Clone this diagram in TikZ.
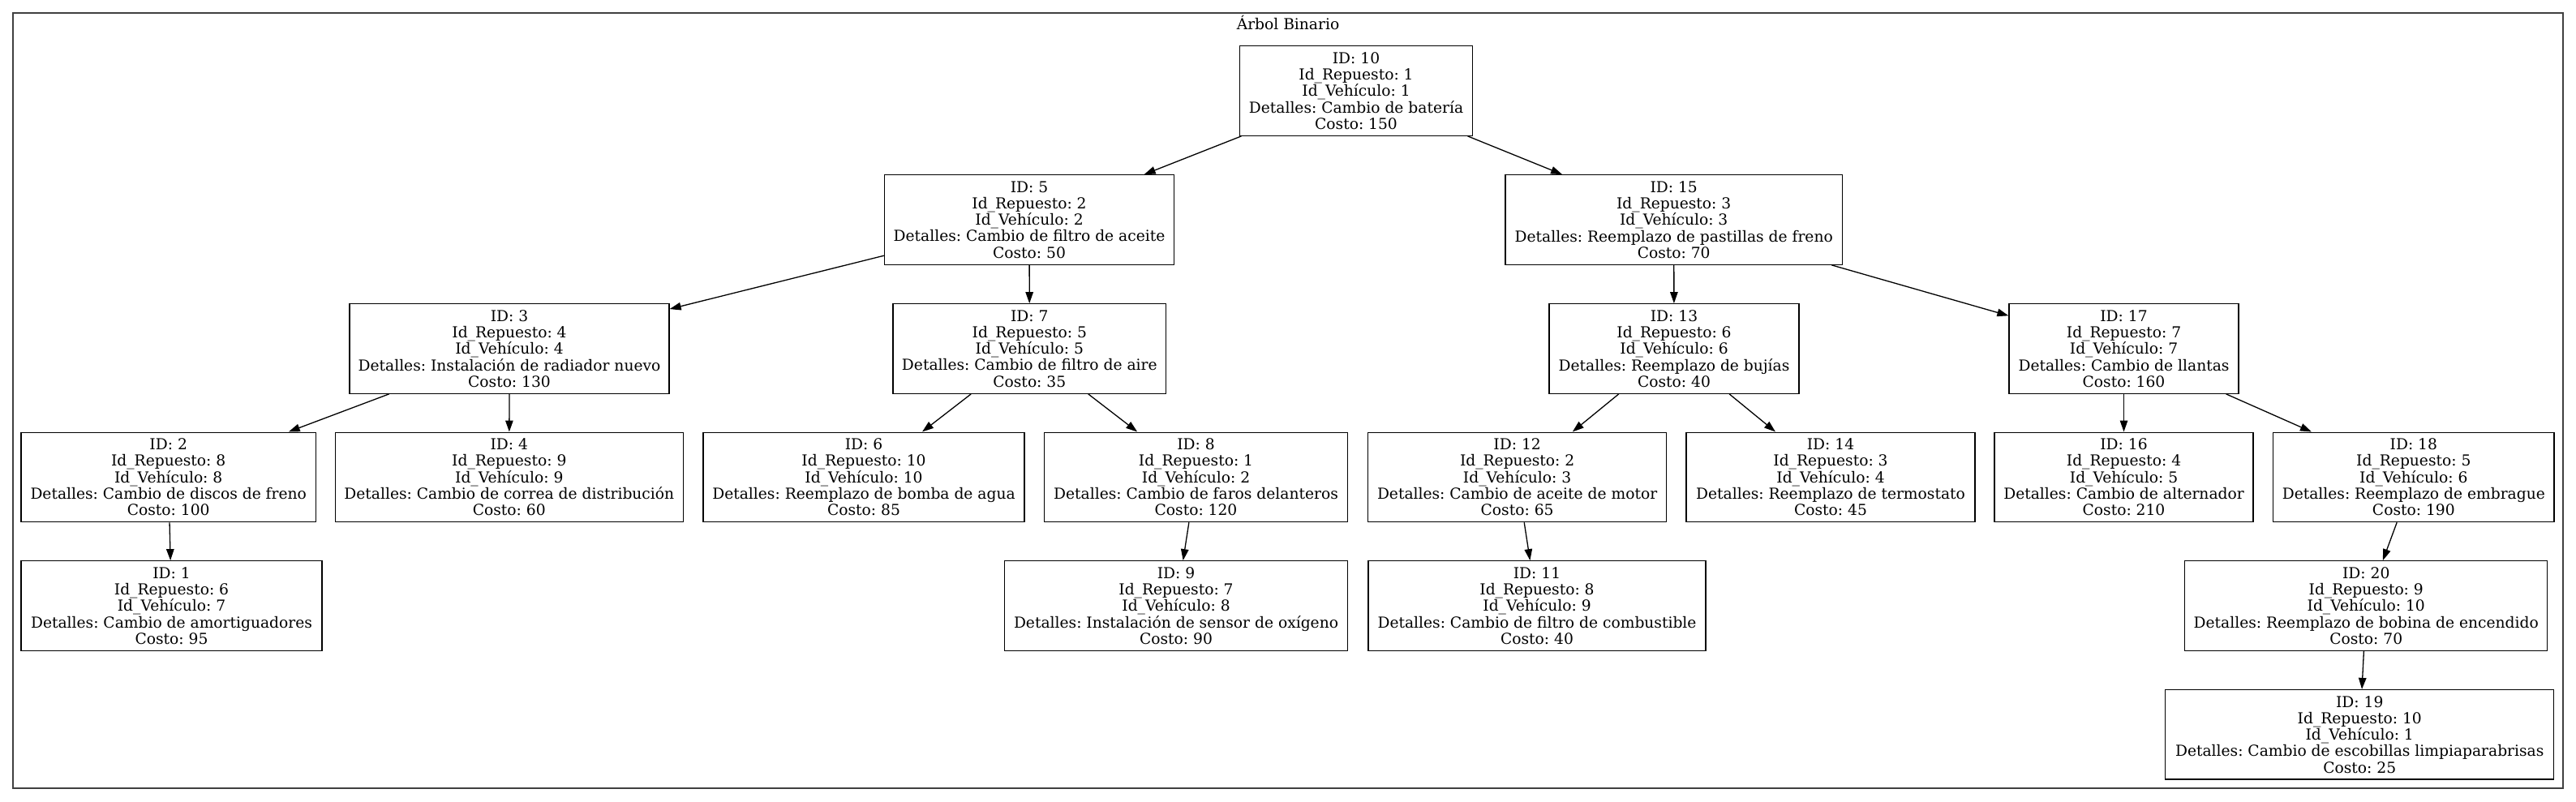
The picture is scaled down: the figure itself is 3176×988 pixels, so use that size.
\documentclass[tikz,border=0pt]{standalone}
\usepackage{fontspec}
\setmainfont{DejaVu Serif}
\usepackage{tikz}
\usetikzlibrary{arrows.meta}
\frenchspacing
\tikzset{nodo/.style={draw, line width=1.3pt, inner sep=0pt, align=center,
    minimum width=#1, minimum height=110.5pt,
    font=\fontsize{18.67}{20.25}\selectfont}
}
\tikzset{arista/.style={-{Triangle[length=14pt,width=9.5pt]}, line width=1.3pt}
}

\begin{document}
\begin{tikzpicture}[x=1pt,y=-1pt]
                \useasboundingbox (0,0) rectangle (3176,988);
                \draw[line width=2pt,black!75] (15.5,16) rectangle (3159.5,971.5);
                \node[anchor=base,font=\fontsize{18.67}{20.25}\selectfont] (titulo) at (1588,36) {Árbol Binario};

                % Nivel 0
                \node[nodo=287pt] (n10) at (1672,112) {ID: 10\\Id\_Repuesto: 1\\Id\_Vehículo: 1\\Detalles: Cambio de batería\\Costo: 150};

                % Nivel 1
                \node[nodo=357pt] (n5) at (1269,271) {ID: 5\\Id\_Repuesto: 2\\Id\_Vehículo: 2\\Detalles: Cambio de filtro de aceite\\Costo: 50};
                \node[nodo=415.5pt] (n15) at (2063.7,271) {ID: 15\\Id\_Repuesto: 3\\Id\_Vehículo: 3\\Detalles: Reemplazo de pastillas de freno\\Costo: 70};

                % Nivel 2
                \node[nodo=394pt] (n3) at (628,430) {ID: 3\\Id\_Repuesto: 4\\Id\_Vehículo: 4\\Detalles: Instalación de radiador nuevo\\Costo: 130};
                \node[nodo=336.7pt] (n7) at (1269.3,430) {ID: 7\\Id\_Repuesto: 5\\Id\_Vehículo: 5\\Detalles: Cambio de filtro de aire\\Costo: 35};
                \node[nodo=308pt] (n13) at (2064,430) {ID: 13\\Id\_Repuesto: 6\\Id\_Vehículo: 6\\Detalles: Reemplazo de bujías\\Costo: 40};
                \node[nodo=283pt] (n17) at (2618.5,430) {ID: 17\\Id\_Repuesto: 7\\Id\_Vehículo: 7\\Detalles: Cambio de llantas\\Costo: 160};

                % Nivel 3
                \node[nodo=363.3pt] (n2) at (207.7,588.4) {ID: 2\\Id\_Repuesto: 8\\Id\_Vehículo: 8\\Detalles: Cambio de discos de freno\\Costo: 100};
                \node[nodo=429.3pt] (n4) at (627.8,588.4) {ID: 4\\Id\_Repuesto: 9\\Id\_Vehículo: 9\\Detalles: Cambio de correa de distribución\\Costo: 60};
                \node[nodo=396pt] (n6) at (1065,588.4) {ID: 6\\Id\_Repuesto: 10\\Id\_Vehículo: 10\\Detalles: Reemplazo de bomba de agua\\Costo: 85};
                \node[nodo=374pt] (n8) at (1474.5,588.4) {ID: 8\\Id\_Repuesto: 1\\Id\_Vehículo: 2\\Detalles: Cambio de faros delanteros\\Costo: 120};
                \node[nodo=367.6pt] (n12) at (1870.6,588.4) {ID: 12\\Id\_Repuesto: 2\\Id\_Vehículo: 3\\Detalles: Cambio de aceite de motor\\Costo: 65};
                \node[nodo=356pt] (n14) at (2257,588.4) {ID: 14\\Id\_Repuesto: 3\\Id\_Vehículo: 4\\Detalles: Reemplazo de termostato\\Costo: 45};
                \node[nodo=319pt] (n16) at (2618.5,588.4) {ID: 16\\Id\_Repuesto: 4\\Id\_Vehículo: 5\\Detalles: Cambio de alternador\\Costo: 210};
                \node[nodo=346.5pt] (n18) at (2975.8,588.4) {ID: 18\\Id\_Repuesto: 5\\Id\_Vehículo: 6\\Detalles: Reemplazo de embrague\\Costo: 190};

                % Nivel 4
                \node[nodo=371pt] (n1) at (211.5,747) {ID: 1\\Id\_Repuesto: 6\\Id\_Vehículo: 7\\Detalles: Cambio de amortiguadores\\Costo: 95};
                \node[nodo=422.5pt] (n9) at (1450,747) {ID: 9\\Id\_Repuesto: 7\\Id\_Vehículo: 8\\Detalles: Instalación de sensor de oxígeno\\Costo: 90};
                \node[nodo=416pt] (n11) at (1895,747) {ID: 11\\Id\_Repuesto: 8\\Id\_Vehículo: 9\\Detalles: Cambio de filtro de combustible\\Costo: 40};
                \node[nodo=447pt] (n20) at (2917.2,747) {ID: 20\\Id\_Repuesto: 9\\Id\_Vehículo: 10\\Detalles: Reemplazo de bobina de encendido\\Costo: 70};

                % Nivel 5
                \node[nodo=479pt] (n19) at (2909.2,905.8) {ID: 19\\Id\_Repuesto: 10\\Id\_Vehículo: 1\\Detalles: Cambio de escobillas limpiaparabrisas\\Costo: 25};

                % Aristas
                \draw[arista] (n10) -- (n5);
                \draw[arista] (n10) -- (n15);
                \draw[arista] (n5) -- (n3);
                \draw[arista] (n5) -- (n7);
                \draw[arista] (n15) -- (n13);
                \draw[arista] (n15) -- (n17);
                \draw[arista] (n3) -- (n2);
                \draw[arista] (n3) -- (n4);
                \draw[arista] (n7) -- (n6);
                \draw[arista] (n7) -- (n8);
                \draw[arista] (n13) -- (n12);
                \draw[arista] (n13) -- (n14);
                \draw[arista] (n17) -- (n16);
                \draw[arista] (n17) -- (n18);
                \draw[arista] (n2) -- (n1);
                \draw[arista] (n8) -- (n9);
                \draw[arista] (n12) -- (n11);
                \draw[arista] (n18) -- (n20);
                \draw[arista] (n20) -- (n19);
            \end{tikzpicture}
\end{document}
